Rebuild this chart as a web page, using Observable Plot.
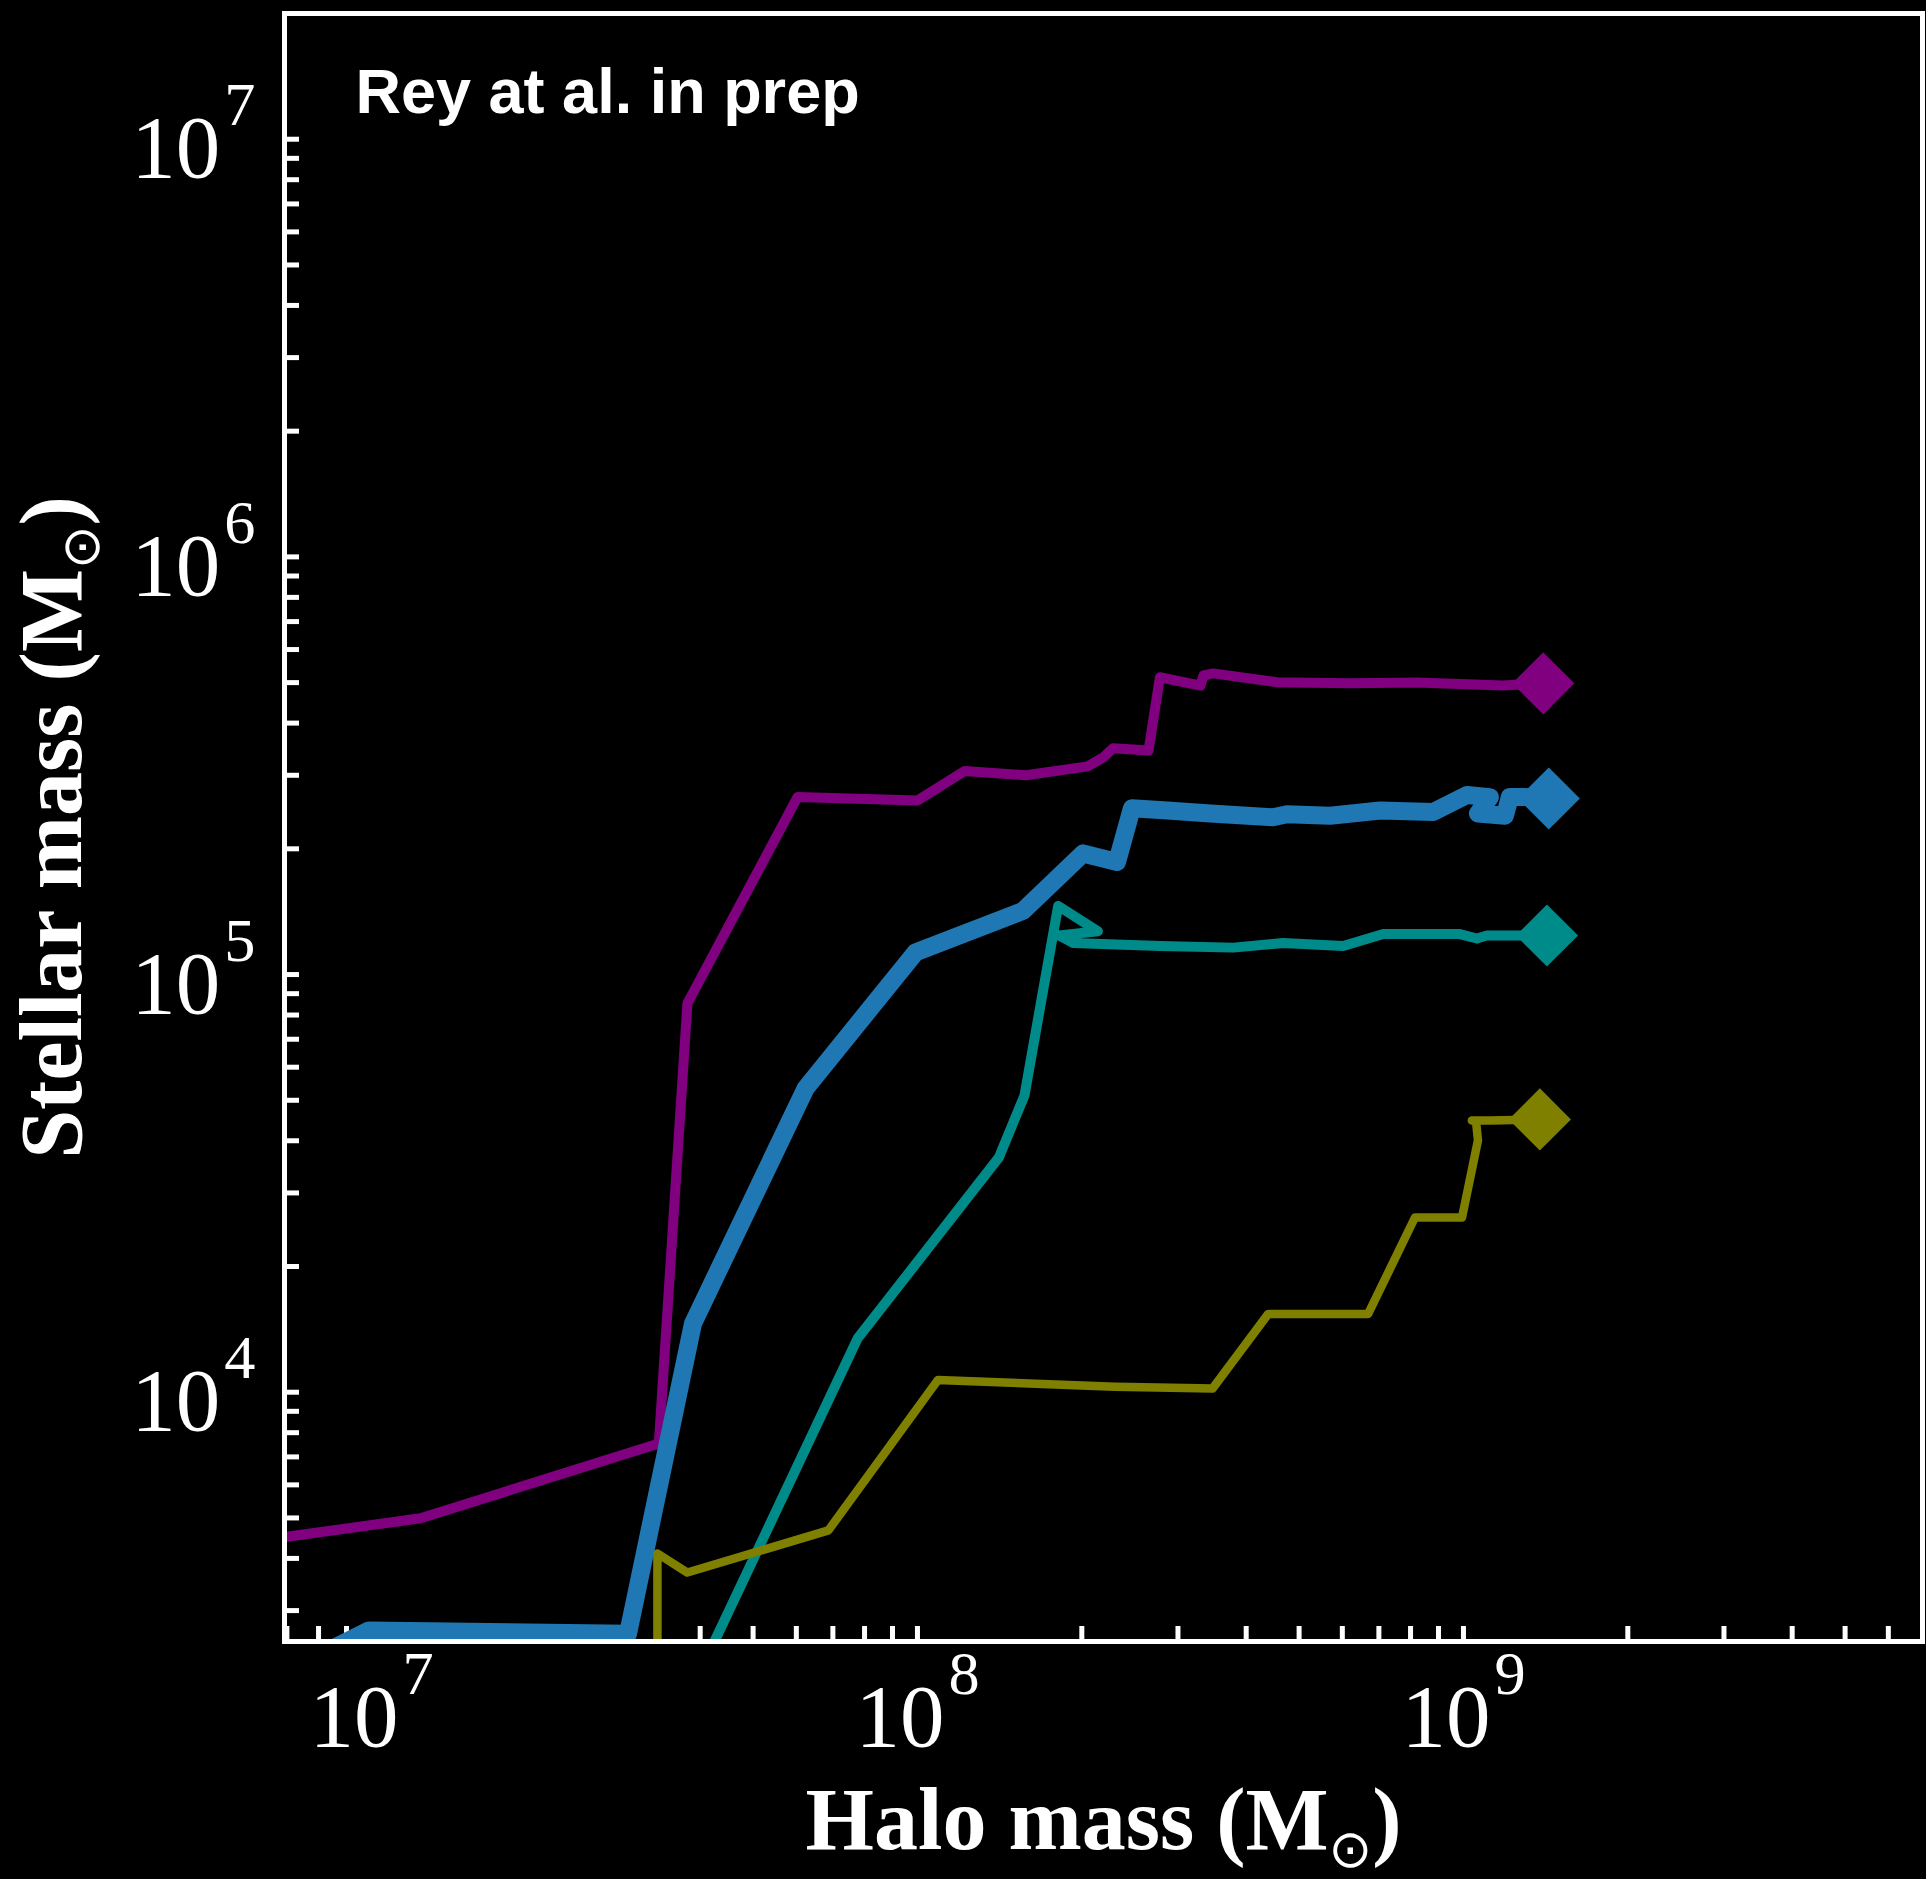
<!DOCTYPE html>
<html>
<head>
<meta charset="utf-8">
<script src="https://cdn.jsdelivr.net/npm/d3@7"></script>
<script src="https://cdn.jsdelivr.net/npm/@observablehq/plot@0.6"></script>
<style>
  html, body { margin: 0; padding: 0; background: #000; }
  #chart { width: 1926px; height: 1879px; }
</style>
</head>
<body>
<div id="chart"></div>
<script>
// Growth tracks: halo mass vs stellar mass (solar masses). The last point of
// each track is the final state, marked with a diamond.
const purpleHalo    = [6.28e6, 1.23e7, 3.36e7, 3.79e7, 6.03e7, 1.00e8, 1.22e8, 1.58e8, 2.05e8, 2.19e8, 2.28e8, 2.65e8, 2.78e8, 3.30e8, 3.34e8, 3.48e8, 4.56e8, 6.20e8, 8.22e8, 1.18e9, 1.40e9];
const purpleStellar = [4.42e3, 4.99e3, 7.54e3, 8.53e4, 2.66e5, 2.61e5, 3.07e5, 3.00e5, 3.15e5, 3.31e5, 3.48e5, 3.44e5, 5.15e5, 4.92e5, 5.20e5, 5.26e5, 5.01e5, 4.98e5, 5.00e5, 4.92e5, 4.98e5];

const blueHalo    = [7.43e6, 9.90e6, 2.95e7, 3.88e7, 6.24e7, 9.92e7, 1.56e8, 2.01e8, 2.32e8, 2.47e8, 2.87e8, 3.44e8, 4.48e8, 4.75e8, 5.70e8, 7.04e8, 8.80e8, 1.015e9, 1.118e9, 1.063e9, 1.191e9, 1.216e9, 1.296e9, 1.433e9];
const blueStellar = [2.23e3, 2.69e3, 2.64e3, 1.46e4, 5.34e4, 1.13e5, 1.42e5, 1.95e5, 1.86e5, 2.50e5, 2.47e5, 2.43e5, 2.38e5, 2.42e5, 2.40e5, 2.47e5, 2.45e5, 2.69e5, 2.66e5, 2.43e5, 2.40e5, 2.66e5, 2.66e5, 2.64e5];

const tealHalo    = [3.93e7, 7.77e7, 1.41e8, 1.57e8, 1.81e8, 2.14e8, 1.82e8, 1.93e8, 2.78e8, 3.79e8, 4.67e8, 6.02e8, 7.13e8, 8.80e8, 9.85e8, 1.058e9, 1.104e9, 1.258e9, 1.422e9];
const tealStellar = [2.04e3, 1.345e4, 3.65e4, 5.13e4, 1.46e5, 1.27e5, 1.24e5, 1.19e5, 1.17e5, 1.16e5, 1.19e5, 1.17e5, 1.25e5, 1.25e5, 1.25e5, 1.22e5, 1.24e5, 1.24e5, 1.24e5];

const oliveHalo    = [3.34e7, 3.34e7, 3.79e7, 6.87e7, 1.09e8, 2.30e8, 3.47e8, 4.39e8, 6.69e8, 8.15e8, 9.94e8, 1.063e9, 1.054e9, 1.036e9, 1.118e9, 1.38e9];
const oliveStellar = [2.04e3, 4.11e3, 3.70e3, 4.67e3, 1.07e4, 1.03e4, 1.02e4, 1.54e4, 1.54e4, 2.62e4, 2.62e4, 4.01e4, 4.47e4, 4.47e4, 4.47e4, 4.50e4];

// Axis decades that carry a "10^n" label
const xTickExponents = [7, 8, 9];
const yTickExponents = [4, 5, 6, 7];

const xDomain = [6.93e6, 6.93e9];
const yDomain = [2.53e3, 2.0e7];

const annotation = "Rey at al. in prep";
const xLabel = "Halo mass (M⊙)";
const yLabel = "Stellar mass (M⊙)";

// Styling of each track
const tracks = [
  {halo: purpleHalo, stellar: purpleStellar, color: "#800080", width: 10},
  {halo: blueHalo,   stellar: blueStellar,   color: "#1f77b4", width: 18},
  {halo: tealHalo,   stellar: tealStellar,   color: "#008b8b", width: 10},
  {halo: oliveHalo,  stellar: oliveStellar,  color: "#808000", width: 8.5}
];

const W = 1926, H = 1879;
const margin = {left: 284, right: 4, top: 13, bottom: 238};
const frameW = W - margin.left - margin.right;
const frameH = H - margin.top - margin.bottom;
const tickLen = 15;

// Every 1..9 x 10^n position inside a log domain (minor + major ticks)
function logTicks([lo, hi]) {
  const out = [];
  for (let e = Math.floor(Math.log10(lo)); e <= Math.ceil(Math.log10(hi)); ++e) {
    for (let k = 1; k <= 9; ++k) {
      const v = k * Math.pow(10, e);
      if (v >= lo && v <= hi) out.push(v);
    }
  }
  return out;
}

const toPoints = (t) => t.halo.map((h, i) => ({halo: h, stellar: t.stellar[i]}));

const marks = [];

// inward ticks on the bottom and left axes
marks.push(Plot.ruleX(logTicks(xDomain), {x: d => d, insetTop: frameH - tickLen, stroke: "white", strokeWidth: 5}));
marks.push(Plot.ruleY(logTicks(yDomain), {y: d => d, insetRight: frameW - tickLen, stroke: "white", strokeWidth: 5}));

// tracks and their final-state diamonds
for (const t of tracks) {
  const pts = toPoints(t);
  marks.push(Plot.line(pts, {
    x: "halo", y: "stellar", stroke: t.color, strokeWidth: t.width,
    strokeLinejoin: "round", strokeLinecap: "butt", clip: true
  }));
  marks.push(Plot.dot([pts[pts.length - 1]], {
    x: "halo", y: "stellar", symbol: "diamond2", r: 28, fill: t.color, stroke: null
  }));
}

// axes box
marks.push(Plot.frame({stroke: "white", strokeWidth: 5}));

// tick labels
marks.push(Plot.text(xTickExponents, {
  x: e => Math.pow(10, e), text: e => `10^${e}`,
  frameAnchor: "bottom", lineAnchor: "bottom", textAnchor: "middle", dy: 104,
  fill: "white", fontSize: 89, fontFamily: "Liberation Serif"
}));
marks.push(Plot.text(yTickExponents, {
  y: e => Math.pow(10, e), text: e => `10^${e}`,
  frameAnchor: "left", lineAnchor: "bottom", textAnchor: "end", dx: -29, dy: 38,
  fill: "white", fontSize: 89, fontFamily: "Liberation Serif"
}));

// axis titles
marks.push(Plot.text([xLabel], {
  text: d => d, frameAnchor: "bottom", lineAnchor: "bottom", textAnchor: "middle", dy: 207,
  fill: "white", fontSize: 88, fontWeight: "bold", fontFamily: "Liberation Serif"
}));
marks.push(Plot.text([yLabel], {
  text: d => d, frameAnchor: "left", lineAnchor: "bottom", textAnchor: "middle", dx: -204, rotate: -90,
  fill: "white", fontSize: 88, fontWeight: "bold", fontFamily: "Liberation Serif"
}));

// in-panel annotation
marks.push(Plot.text([annotation], {
  text: d => d, frameAnchor: "top-left", lineAnchor: "bottom", textAnchor: "start", dx: 71, dy: 99,
  fill: "white", fontSize: 63, fontWeight: "bold", fontFamily: "Liberation Sans"
}));

const svg = Plot.plot({
  width: W, height: H,
  marginLeft: margin.left, marginRight: margin.right, marginTop: margin.top, marginBottom: margin.bottom,
  style: {background: "black", color: "white", fontFamily: "Liberation Serif"},
  x: {type: "log", domain: xDomain, axis: null},
  y: {type: "log", domain: yDomain, axis: null},
  marks
});

// Typeset exponents ("10^7") and the solar symbol subscript (M⊙)
d3.select(svg).selectAll("text").each(function () {
  const node = d3.select(this);
  const s = this.textContent;
  if (s.includes("^")) {
    const [base, exp] = s.split("^");
    node.text(null);
    node.append("tspan").text(base);
    node.append("tspan").attr("dx", 4).attr("dy", -52).attr("font-size", "0.7em").text(exp);
  } else if (s.includes("⊙")) {
    const [pre, post] = s.split("⊙");
    node.text(null);
    node.append("tspan").text(pre);
    node.append("tspan").attr("dy", 18).attr("font-size", 52)
      .attr("font-family", "DejaVu Sans").attr("font-weight", "normal").text("⊙");
    node.append("tspan").attr("dy", -18).text(post);
  }
});

document.getElementById("chart").appendChild(svg);
</script>
</body>
</html>
